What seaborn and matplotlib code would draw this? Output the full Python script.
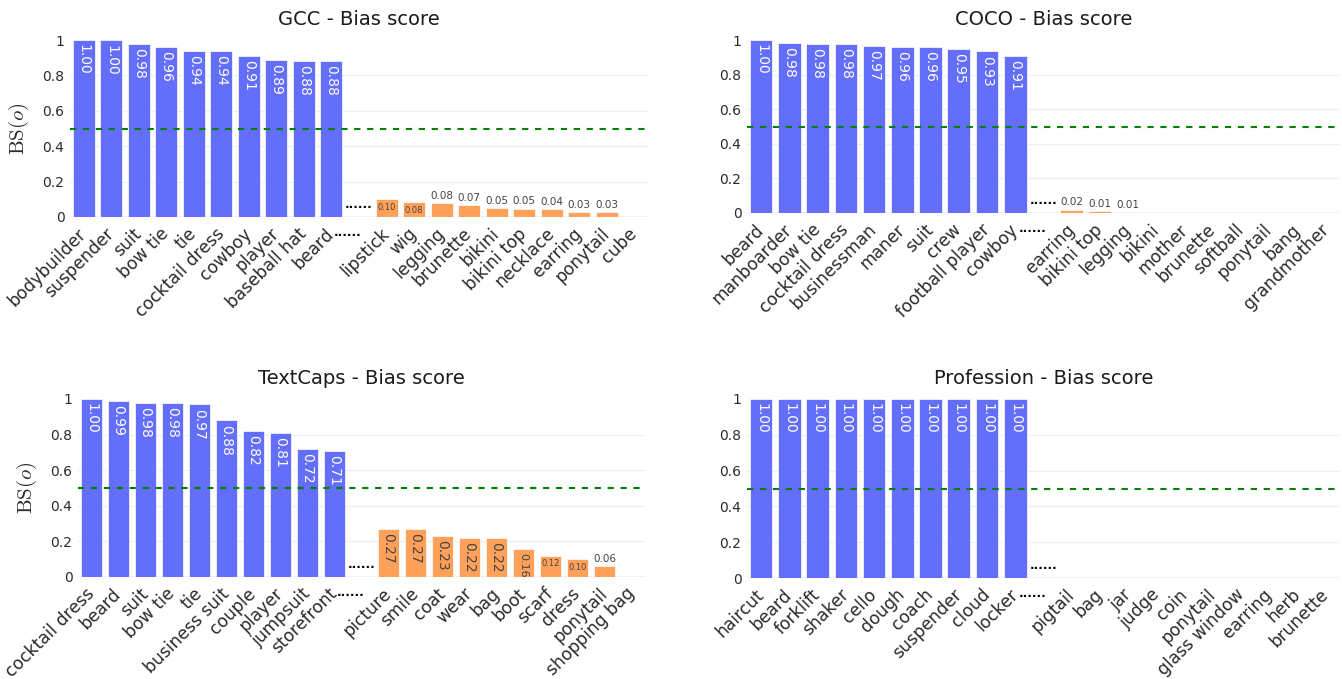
import matplotlib
matplotlib.use("Agg")
import matplotlib.pyplot as plt
import matplotlib.transforms as mtransforms
import seaborn as sns
import pandas as pd

# ---------------- data ----------------
gcc_top_labels = ["bodybuilder", "suspender", "suit", "bow tie", "tie", "cocktail dress",
                  "cowboy", "player", "baseball hat", "beard"]
gcc_top_values = [1.00, 0.998, 0.98, 0.96, 0.94, 0.937, 0.91, 0.886, 0.883, 0.88]
gcc_low_labels = ["lipstick", "wig", "legging", "brunette", "bikini", "bikini top",
                  "necklace", "earring", "ponytail", "cube"]
gcc_low_values = [0.10, 0.083, 0.077, 0.066, 0.05, 0.048, 0.043, 0.03, 0.026, 0.0]

coco_top_labels = ["beard", "manboarder", "bow tie", "cocktail dress", "businessman",
                   "maner", "suit", "crew", "football player", "cowboy"]
coco_top_values = [1.00, 0.985, 0.978, 0.977, 0.967, 0.962, 0.961, 0.947, 0.934, 0.906]
coco_low_labels = ["earring", "bikini top", "legging", "bikini", "mother", "brunette",
                   "softball", "ponytail", "bang", "grandmother"]
coco_low_values = [0.02, 0.012, 0.007, 0.0, 0.0, 0.0, 0.0, 0.0, 0.0, 0.0]

textcaps_top_labels = ["cocktail dress", "beard", "suit", "bow tie", "tie", "business suit",
                       "couple", "player", "jumpsuit", "storefront"]
textcaps_top_values = [1.00, 0.99, 0.98, 0.978, 0.97, 0.88, 0.82, 0.81, 0.72, 0.71]
textcaps_low_labels = ["picture", "smile", "coat", "wear", "bag", "boot", "scarf", "dress",
                       "ponytail", "shopping bag"]
textcaps_low_values = [0.27, 0.27, 0.23, 0.22, 0.22, 0.16, 0.12, 0.10, 0.06, 0.0]

prof_top_labels = ["haircut", "beard", "forklift", "shaker", "cello", "dough", "coach",
                   "suspender", "cloud", "locker"]
prof_top_values = [1.00, 1.00, 1.00, 1.00, 1.00, 1.00, 1.00, 1.00, 1.00, 1.00]
prof_low_labels = ["pigtail", "bag", "jar", "judge", "coin", "ponytail", "glass window",
                   "earring", "herb", "brunette"]
prof_low_values = [0.0, 0.0, 0.0, 0.0, 0.0, 0.0, 0.0, 0.0, 0.0, 0.0]

gap_label = "......"
threshold = 0.5
y_ticks = [0, 0.2, 0.4, 0.6, 0.8, 1.0]
y_tick_labels = ["0", "0.2", "0.4", "0.6", "0.8", "1"]

panels = [
    ("GCC - Bias score", gcc_top_labels, gcc_top_values, gcc_low_labels, gcc_low_values),
    ("COCO - Bias score", coco_top_labels, coco_top_values, coco_low_labels, coco_low_values),
    ("TextCaps - Bias score", textcaps_top_labels, textcaps_top_values, textcaps_low_labels, textcaps_low_values),
    ("Profession - Bias score", prof_top_labels, prof_top_values, prof_low_labels, prof_low_values),
]

# ---------------- style ----------------
sns.set_theme(style="white")
plt.rcParams["font.family"] = ["DejaVu Sans"]
plt.rcParams["mathtext.fontset"] = "cm"

BLUE = "#636EFA"
ORANGE = "#FFA15A"
GRID = "#EBF0F8"
TXT = "#2b2b2b"
palette = {"top": BLUE, "gap": "white", "low": ORANGE}

W, H = 1342, 679
fig = plt.figure(figsize=(W / 100, H / 100), dpi=100)
fig.patch.set_facecolor("white")

# axes rectangles in pixels: left, top(value 1), right, bottom(value 0)
rects_px = [(70, 40, 648, 217), (747, 40, 1340, 213), (78, 399, 645, 577), (747, 399, 1340, 578)]

for k, (title, tl, tv, ll, lv) in enumerate(panels):
    l, t, r, b = rects_px[k]
    ax = fig.add_axes([l / W, 1 - b / H, (r - l) / W, (b - t) / H])
    cats = tl + [gap_label] + ll
    vals = tv + [0.0] + lv
    groups = ["top"] * len(tl) + ["gap"] + ["low"] * len(ll)
    df = pd.DataFrame({"cat": cats, "val": vals, "grp": groups})

    for yv in y_ticks[1:-1]:
        ax.axhline(yv, color=GRID, lw=1, zorder=0)
    ax.axhline(0, color=GRID, lw=2, zorder=0)

    sns.barplot(data=df, x="cat", y="val", hue="grp", order=cats, palette=palette,
                dodge=False, legend=False, width=0.8, edgecolor="white", linewidth=0.5,
                saturation=1, ax=ax, zorder=2)

    ax.axhline(threshold, color="#008000", lw=1.5, ls=(0, (3, 3.2)), zorder=3)

    for i, (v, g) in enumerate(zip(vals, groups)):
        s = f"{v:.2f}"
        if g == "gap":
            ax.annotate(gap_label, (i, 0), xytext=(0, 4), textcoords="offset points",
                        ha="center", va="bottom", fontsize=8.5, fontweight="bold",
                        color="black", zorder=4)
            continue
        if v <= 0:
            continue
        if g == "top":
            ax.annotate(s, (i, v), xytext=(0, -3), textcoords="offset points", rotation=270,
                        ha="center", va="top", fontsize=10, color="white", zorder=4)
        elif v >= 0.15:
            fs = 10 if v >= 0.2 else 8
            ax.annotate(s, (i, v), xytext=(0, -3), textcoords="offset points", rotation=270,
                        ha="center", va="top", fontsize=fs, color="#444444", zorder=4)
        elif v >= 0.08:
            ax.annotate(s, (i, v), xytext=(0, -2.5), textcoords="offset points",
                        ha="center", va="top", fontsize=6, color="#444444", zorder=4)
        else:
            ax.annotate(s, (i, v), xytext=(0, 1.5), textcoords="offset points",
                        ha="center", va="bottom", fontsize=7.5, color="#444444", zorder=4)

    ax.set_xlim(-0.5, len(cats) - 0.5)
    ax.set_ylim(0, 1.0)
    ax.set_yticks(y_ticks)
    ax.set_yticklabels(y_tick_labels, fontsize=10, color=TXT)
    ax.set_xticks(range(len(cats)))
    ax.set_xticklabels(cats, rotation=45, ha="right", va="center", rotation_mode="anchor",
                       fontsize=12.3, color=TXT)
    ax.tick_params(axis="x", length=0, pad=10)
    ax.tick_params(axis="y", length=0, pad=4)
    # the gap label is drawn flat, like a row of dots
    for lab in ax.get_xticklabels():
        if lab.get_text() == gap_label:
            lab.set_rotation(0)
            lab.set_fontsize(8.5)
            lab.set_fontweight("bold")
            lab.set_color("black")
            lab.set_transform(lab.get_transform() +
                              mtransforms.ScaledTranslation(2 / 72, -1.5 / 72, fig.dpi_scale_trans))
    ax.set_xlabel("")
    if k % 2 == 0:
        ax.set_ylabel(r"$\mathrm{BS}(o)$", fontsize=15, color=TXT, labelpad=8)
    else:
        ax.set_ylabel("")
    for sp in ax.spines.values():
        sp.set_visible(False)
    ax.set_title(title, fontsize=14, color="#1a1a1a", pad=11)

fig.savefig("out.png", dpi=100, facecolor="white")
